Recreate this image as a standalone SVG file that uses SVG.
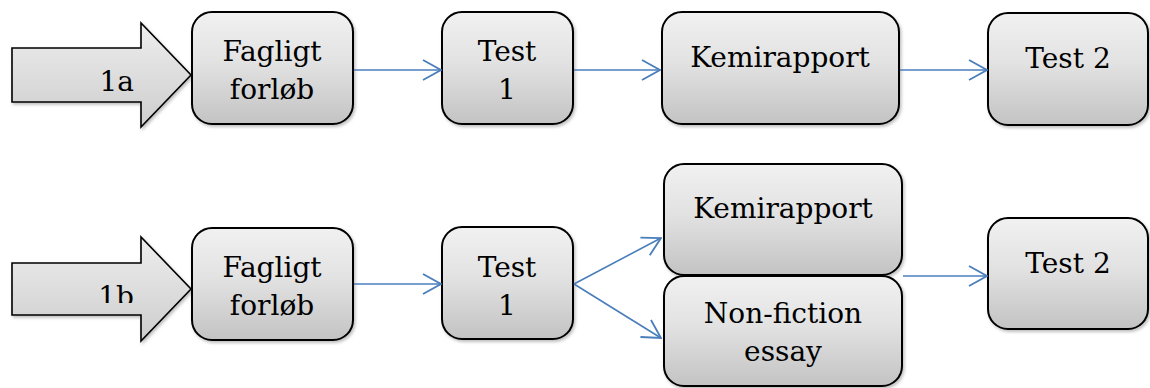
<svg xmlns="http://www.w3.org/2000/svg" width="1150" height="388" viewBox="0 0 1150 388">
  <defs>
    <linearGradient id="boxFill" x1="0" y1="0" x2="0" y2="1">
      <stop offset="0" stop-color="#f1f1f1"/>
      <stop offset="0.45" stop-color="#e2e2e2"/>
      <stop offset="1" stop-color="#c3c3c3"/>
    </linearGradient>
    <linearGradient id="arrowFill" x1="0" y1="0" x2="0" y2="1">
      <stop offset="0" stop-color="#eeeeee"/>
      <stop offset="1" stop-color="#cdcdcd"/>
    </linearGradient>
    <filter id="shadow" x="-10%" y="-10%" width="130%" height="130%">
      <feDropShadow dx="1.5" dy="2" stdDeviation="1.5" flood-color="#000" flood-opacity="0.25"/>
    </filter>
    <marker id="openHead" viewBox="0 0 20 22" refX="19" refY="11" markerWidth="20" markerHeight="22" markerUnits="userSpaceOnUse" orient="auto">
      <path d="M1,1 L19,11 L1,21" fill="none" stroke="#4a7ebb" stroke-width="1.8"/>
    </marker>
    <clipPath id="clip1b">
      <rect x="0" y="240" width="190" height="63"/>
    </clipPath>
  </defs>
  <style>
    .box { fill: url(#boxFill); stroke: #000; stroke-width: 2; filter: url(#shadow); }
    .block { fill: url(#arrowFill); stroke: #000; stroke-width: 1.6; filter: url(#shadow); }
    text { font-family: "DejaVu Serif", "Liberation Serif", serif; font-size: 28px; fill: #000; }
    .lbl { text-anchor: middle; }
    .tag { text-anchor: end; }
    .link { stroke: #4a7ebb; stroke-width: 1.6; fill: none; marker-end: url(#openHead); }
  </style>

  <!-- row 1a -->
  <g id="arrow-1a">
    <path class="block" d="M12,48 L141,48 L141,23 L191,75 L141,127 L141,102 L12,102 Z"/>
    <text class="tag" x="134" y="91">1a</text>
  </g>
  <g id="fagligt-1a">
    <rect class="box" x="192" y="12" width="161" height="112" rx="20"/>
    <text class="lbl" x="272" y="61">Fagligt</text>
    <text class="lbl" x="272" y="99">forløb</text>
  </g>
  <g id="test1-1a">
    <rect class="box" x="442" y="12" width="131" height="112" rx="20"/>
    <text class="lbl" x="507" y="61">Test</text>
    <text class="lbl" x="507" y="99">1</text>
  </g>
  <g id="kemi-1a">
    <rect class="box" x="662" y="12" width="237" height="112" rx="20"/>
    <text class="lbl" x="780" y="67">Kemirapport</text>
  </g>
  <g id="test2-1a">
    <rect class="box" x="988" y="13" width="160" height="112" rx="20"/>
    <text class="lbl" x="1068" y="68">Test 2</text>
  </g>

  <!-- row 1b -->
  <g id="arrow-1b">
    <path class="block" d="M12,263 L141,263 L141,237 L191,289 L141,341 L141,315 L12,315 Z"/>
    <text class="tag" x="134" y="306" clip-path="url(#clip1b)">1b</text>
  </g>
  <g id="fagligt-1b">
    <rect class="box" x="192" y="228" width="161" height="112" rx="20"/>
    <text class="lbl" x="272" y="277">Fagligt</text>
    <text class="lbl" x="272" y="315">forløb</text>
  </g>
  <g id="test1-1b">
    <rect class="box" x="442" y="227" width="131" height="112" rx="20"/>
    <text class="lbl" x="507" y="277">Test</text>
    <text class="lbl" x="507" y="315">1</text>
  </g>
  <g id="kemi-1b">
    <rect class="box" x="664" y="164" width="238" height="111" rx="20"/>
    <text class="lbl" x="783" y="218">Kemirapport</text>
  </g>
  <g id="essay-1b">
    <rect class="box" x="664" y="276" width="238" height="110" rx="20"/>
    <text class="lbl" x="783" y="323">Non-fiction</text>
    <text class="lbl" x="783" y="361">essay</text>
  </g>
  <g id="test2-1b">
    <rect class="box" x="988" y="218" width="160" height="111" rx="20"/>
    <text class="lbl" x="1068" y="273">Test 2</text>
  </g>

  <!-- connectors -->
  <g id="connectors">
    <line class="link" x1="354" y1="70" x2="441" y2="70"/>
    <line class="link" x1="574" y1="70" x2="660" y2="70"/>
    <line class="link" x1="900" y1="70" x2="987" y2="70"/>
    <line class="link" x1="354" y1="284" x2="441" y2="284"/>
    <line class="link" x1="574" y1="284" x2="661" y2="238"/>
    <line class="link" x1="574" y1="284" x2="661" y2="338"/>
    <line class="link" x1="903" y1="276" x2="987" y2="276"/>
  </g>
</svg>
